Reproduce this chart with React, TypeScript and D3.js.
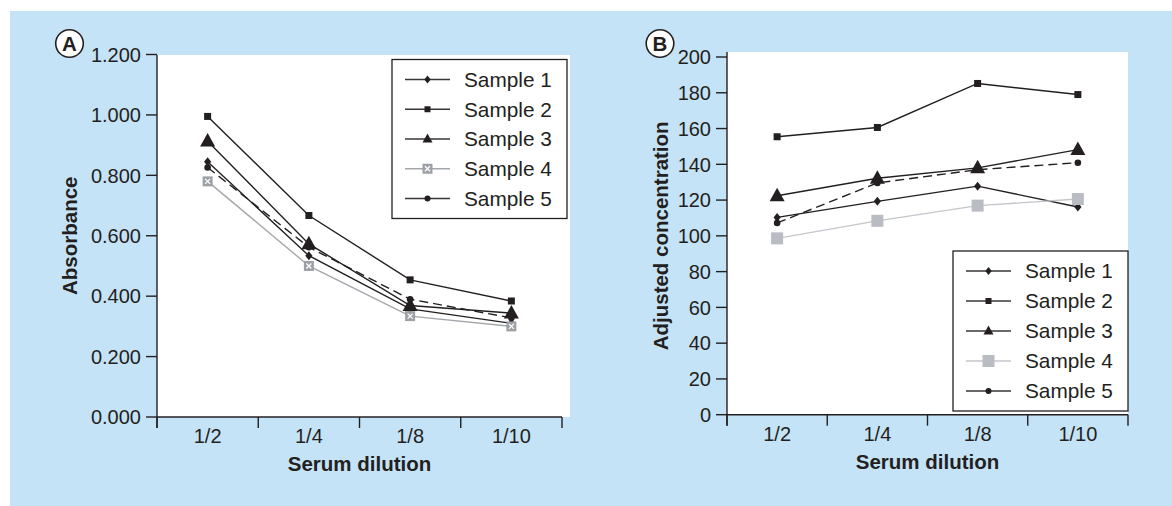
import React from "react";
import * as d3 from "d3";

const categories = ["1/2", "1/4", "1/8", "1/10"];
const seriesNames = ["Sample 1", "Sample 2", "Sample 3", "Sample 4", "Sample 5"];

// Panel A: absorbance
const absS1 = [0.845, 0.534, 0.358, 0.31];
const absS2 = [0.995, 0.667, 0.454, 0.384];
const absS3 = [0.913, 0.573, 0.369, 0.344];
const absS4 = [0.78, 0.5, 0.334, 0.3];
const absS5 = [0.826, 0.562, 0.39, 0.328];
const absTicks = [0, 0.2, 0.4, 0.6, 0.8, 1.0, 1.2];

// Panel B: adjusted concentration
const concS1 = [110.3, 119.3, 127.8, 116.1];
const concS2 = [155.4, 160.6, 185.2, 179.0];
const concS3 = [122.4, 132.2, 138.0, 148.2];
const concS4 = [98.6, 108.4, 116.9, 120.6];
const concS5 = [107.2, 129.6, 137.0, 140.9];
const concTicks = [0, 20, 40, 60, 80, 100, 120, 140, 160, 180, 200];

const INK = "#231f20";
const FONT = "'Liberation Sans', Arial, Helvetica, sans-serif";

type Marker = "diamond" | "square" | "triangle" | "xsquare" | "graysquare" | "circle";

function MarkerShape({ type, x, y, big }: { type: Marker; x: number; y: number; big: boolean }) {
  if (type === "diamond") {
    const s = big ? 4.5 : 4;
    return <path d={`M${x},${y - s}L${x + s * 0.8},${y}L${x},${y + s}L${x - s * 0.8},${y}Z`} fill={INK} />;
  }
  if (type === "square") {
    const s = big ? 7 : 6;
    return <rect x={x - s / 2} y={y - s / 2} width={s} height={s} fill={INK} />;
  }
  if (type === "triangle") {
    const s = big ? 15 : 10;
    const h = s * 0.9;
    return <path d={`M${x},${y - h * 0.6}L${x + s / 2},${y + h * 0.4}L${x - s / 2},${y + h * 0.4}Z`} fill={INK} />;
  }
  if (type === "xsquare") {
    const s = 10;
    return (
      <g>
        <rect x={x - s / 2} y={y - s / 2} width={s} height={s} fill="#9da1a6" />
        <path d={`M${x - 2.5},${y - 2.5}L${x + 2.5},${y + 2.5}M${x + 2.5},${y - 2.5}L${x - 2.5},${y + 2.5}`} stroke="#fff" strokeWidth={1.3} />
      </g>
    );
  }
  if (type === "graysquare") {
    const s = 12;
    return <rect x={x - s / 2} y={y - s / 2} width={s} height={s} fill="#b9bcc2" />;
  }
  const r = big ? 3.3 : 3;
  return <circle cx={x} cy={y} r={r} fill={INK} />;
}

type Series = { name: string; values: number[]; marker: Marker; stroke: string; dash?: string };

function Panel(props: {
  letter: string;
  xL: number;
  xR: number;
  whiteR: number;
  whiteT: number;
  yTop: number;
  yBot: number;
  max: number;
  ticks: number[];
  fmt: (v: number) => string;
  yTitle: string;
  yTitleX: number;
  series: Series[];
  legend: { x: number; y: number; w: number; h: number };
  letterX: number;
}) {
  const x = d3.scaleBand<string>().domain(categories).range([props.xL, props.xR]).paddingInner(0).paddingOuter(0);
  const y = d3.scaleLinear().domain([0, props.max]).range([props.yBot, props.yTop]);
  const line = d3
    .line<number>()
    .x((_, i) => (x(categories[i]) as number) + x.bandwidth() / 2)
    .y((d) => y(d));
  const bounds = categories.map((c) => x(c) as number).concat([props.xR]);
  const lg = props.legend;
  return (
    <g>
      <rect x={props.xL} y={props.whiteT} width={props.whiteR - props.xL} height={props.yBot - props.whiteT} fill="#fff" />
      {props.series.map((s) => (
        <g key={s.name}>
          <path d={line(s.values) as string} fill="none" stroke={s.stroke} strokeWidth={1.4} strokeDasharray={s.dash} />
          {s.values.map((v, i) => (
            <MarkerShape key={i} type={s.marker} x={(x(categories[i]) as number) + x.bandwidth() / 2} y={y(v)} big={true} />
          ))}
        </g>
      ))}
      <line x1={props.xL} x2={props.xL} y1={props.whiteT} y2={props.yBot + 11} stroke={INK} strokeWidth={1.4} />
      <line x1={props.xL} x2={props.xR} y1={props.yBot} y2={props.yBot} stroke={INK} strokeWidth={1.4} />
      {props.ticks.map((t) => (
        <g key={t}>
          <line x1={props.xL - 11} x2={props.xL} y1={y(t)} y2={y(t)} stroke={INK} strokeWidth={1.4} />
          <text x={props.xL - 16} y={y(t)} dy="0.36em" textAnchor="end" fontSize={20} fontFamily={FONT} fill={INK}>
            {props.fmt(t)}
          </text>
        </g>
      ))}
      {bounds.map((b, i) => (
        <line key={i} x1={b} x2={b} y1={props.yBot} y2={props.yBot + 11} stroke={INK} strokeWidth={1.4} />
      ))}
      {categories.map((c) => (
        <text key={c} x={(x(c) as number) + x.bandwidth() / 2} y={props.yBot + 26} textAnchor="middle" fontSize={20} fontFamily={FONT} fill={INK}>
          {c}
        </text>
      ))}
      <text x={(props.xL + props.xR) / 2} y={props.yBot + 54} textAnchor="middle" fontSize={20.5} fontWeight="bold" fontFamily={FONT} fill={INK}>
        Serum dilution
      </text>
      <text
        transform={`translate(${props.yTitleX},${(props.yTop + props.yBot) / 2}) rotate(-90)`}
        textAnchor="middle"
        fontSize={20.5}
        fontWeight="bold"
        fontFamily={FONT}
        fill={INK}
      >
        {props.yTitle}
      </text>
      <rect x={lg.x} y={lg.y} width={lg.w} height={lg.h} fill="#fff" stroke={INK} strokeWidth={1.3} />
      {props.series.map((s, i) => {
        const cy = lg.y + 20 + i * ((lg.h - 40) / (props.series.length - 1));
        return (
          <g key={s.name}>
            <line x1={lg.x + 13} x2={lg.x + 58} y1={cy} y2={cy} stroke={s.stroke === INK ? "#3a3637" : s.stroke} strokeWidth={1.6} />
            <MarkerShape type={s.marker} x={lg.x + 35.5} y={cy} big={false} />
            <text x={lg.x + 72} y={cy} dy="0.36em" fontSize={20.8} fontFamily={FONT} fill={INK}>
              {s.name}
            </text>
          </g>
        );
      })}
      <circle cx={props.letterX} cy={43.5} r={13.8} fill="#fff" stroke={INK} strokeWidth={1.6} />
      <text x={props.letterX} y={43.5} dy="0.36em" textAnchor="middle" fontSize={20.5} fontWeight="bold" fontFamily={FONT} fill={INK}>
        {props.letter}
      </text>
    </g>
  );
}

export default function App() {
  const seriesA: Series[] = [
    { name: seriesNames[0], values: absS1, marker: "diamond", stroke: INK },
    { name: seriesNames[1], values: absS2, marker: "square", stroke: INK },
    { name: seriesNames[2], values: absS3, marker: "triangle", stroke: INK },
    { name: seriesNames[3], values: absS4, marker: "xsquare", stroke: "#a3a7ab" },
    { name: seriesNames[4], values: absS5, marker: "circle", stroke: INK, dash: "9,5" },
  ];
  const seriesB: Series[] = [
    { name: seriesNames[0], values: concS1, marker: "diamond", stroke: INK },
    { name: seriesNames[1], values: concS2, marker: "square", stroke: INK },
    { name: seriesNames[2], values: concS3, marker: "triangle", stroke: INK },
    { name: seriesNames[3], values: concS4, marker: "graysquare", stroke: "#c3c6cb" },
    { name: seriesNames[4], values: concS5, marker: "circle", stroke: INK, dash: "9,5" },
  ];
  return (
    <svg width={1172} height={506} style={{ position: "absolute", left: 0, top: 0 }}>
      <rect x={0} y={0} width={1172} height={506} fill="#fff" />
      <rect x={10} y={11} width={1162} height={495} fill="#c5e3f7" />
      <Panel
        letter="A"
        xL={157}
        xR={562}
        whiteR={570}
        whiteT={55}
        yTop={54.5}
        yBot={417}
        max={1.2}
        ticks={absTicks}
        fmt={d3.format(".3f")}
        yTitle="Absorbance"
        yTitleX={77}
        series={seriesA}
        legend={{ x: 392, y: 59.5, w: 175, h: 159 }}
        letterX={69.5}
      />
      <Panel
        letter="B"
        xL={727}
        xR={1128}
        whiteR={1128}
        whiteT={52}
        yTop={57}
        yBot={414.7}
        max={200}
        ticks={concTicks}
        fmt={d3.format("d")}
        yTitle="Adjusted concentration"
        yTitleX={668}
        series={seriesB}
        legend={{ x: 953, y: 251, w: 175, h: 160 }}
        letterX={660}
      />
    </svg>
  );
}
